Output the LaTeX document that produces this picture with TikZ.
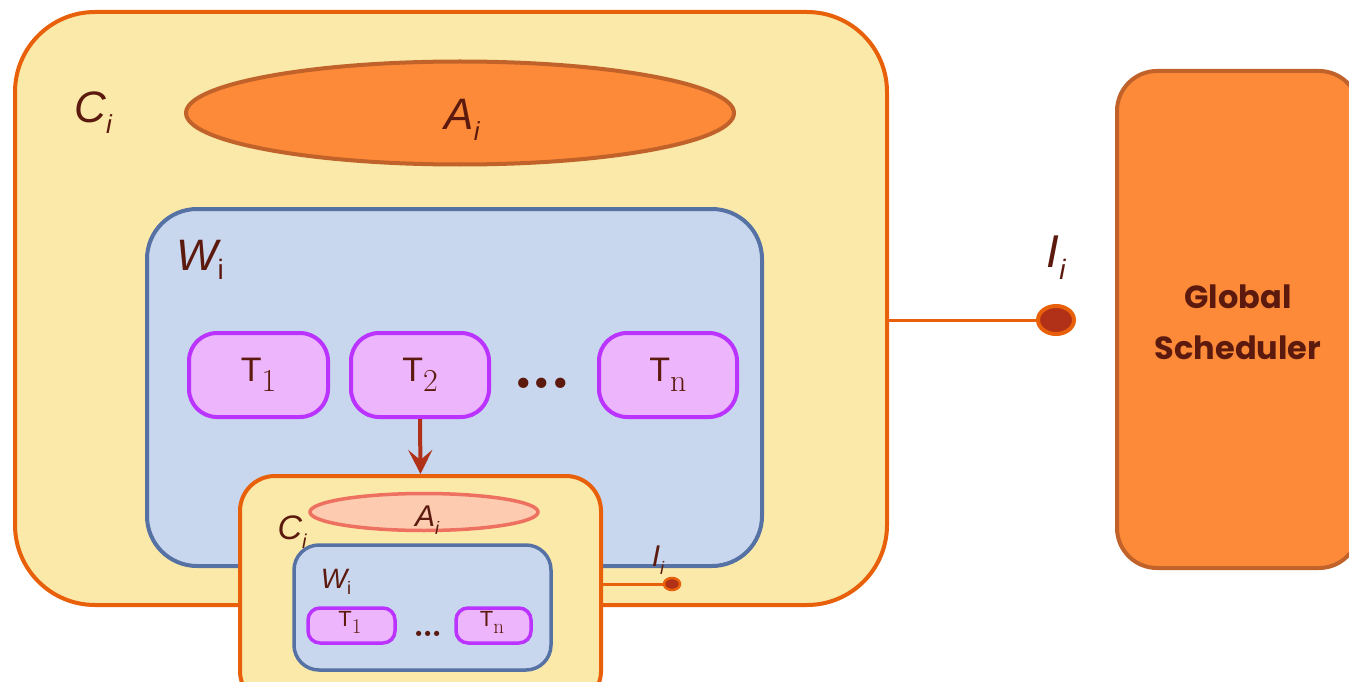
\documentclass[tikz,border=0pt]{standalone}
\usepackage{fontspec}
\newfontfamily\sfn{Liberation Sans}
\newfontfamily\gsfont{Poppins}
\usetikzlibrary{shapes.geometric,arrows.meta}
\definecolor{cfill}{HTML}{FAE9A9}
\definecolor{cline}{HTML}{E8600A}
\definecolor{afill}{HTML}{FD8A38}
\definecolor{aline}{HTML}{C0622A}
\definecolor{wfill}{HTML}{C8D6EE}
\definecolor{wline}{HTML}{5672A5}
\definecolor{tfill}{HTML}{EDB5FB}
\definecolor{tline}{HTML}{BB33FF}
\definecolor{txt}{HTML}{5C1A0E}
\definecolor{arr}{HTML}{B03018}
\definecolor{afilltwo}{HTML}{FDCBB0}
\definecolor{alinetwo}{HTML}{EE7060}
\tikzset{
  cbox/.style={draw=cline, fill=cfill, line width=4pt, rounded corners=#1, inner sep=0pt},
  wbox/.style={draw=wline, fill=wfill, line width=4pt, rounded corners=#1, inner sep=0pt},
  tbox/.style={draw=tline, fill=tfill, line width=4pt, rounded corners=#1, inner sep=0pt, text=txt},
  aell/.style={ellipse, draw=aline, fill=afill, line width=4pt, inner sep=0pt},
  lbl/.style={text=txt, inner sep=0pt},
}
\begin{document}
\begin{tikzpicture}[x=1pt,y=-1pt]
\useasboundingbox (0,0) rectangle (1349,682);
\clip (0,0) rectangle (1349,682);
% outer C
\node[cbox=80pt, minimum width=872pt, minimum height=593pt] (oc) at (451,308.5) {};
\node[aell, minimum width=548pt, minimum height=103pt] (oa) at (460,113) {};
\node[lbl] (oal) at (462,120) {\fontsize{44}{44}\selectfont\sfn\itshape A\raisebox{-11pt}{\fontsize{26}{26}\selectfont i}};
\node[lbl] (ocl) at (93,113) {\fontsize{44}{44}\selectfont\sfn\itshape C\raisebox{-11pt}{\fontsize{26}{26}\selectfont i}};
% W
\node[wbox=50pt, minimum width=615pt, minimum height=357pt] (ow) at (454.5,387.5) {};
\node[lbl] (owl) at (200,260) {\fontsize{44}{44}\selectfont\sfn{\itshape W}\raisebox{-9pt}{\fontsize{28}{28}\selectfont i}};
% T boxes
\node[tbox=28pt, minimum width=139pt, minimum height=84pt] (t1) at (258.5,375) {};
\node[tbox=28pt, minimum width=138pt, minimum height=84pt] (t2) at (420,375) {};
\node[tbox=28pt, minimum width=138pt, minimum height=84pt] (tn) at (668,375) {};
\node[lbl] at (t1) {\fontsize{34}{34}\selectfont\sfn T\raisebox{-10pt}{\rmfamily\fontsize{32}{32}\selectfont 1}};
\node[lbl] at (t2) {\fontsize{34}{34}\selectfont\sfn T\raisebox{-10pt}{\rmfamily\fontsize{32}{32}\selectfont 2}};
\node[lbl] at (tn) {\fontsize{34}{34}\selectfont\sfn T\raisebox{-10pt}{\rmfamily\fontsize{32}{32}\selectfont n}};
\node[lbl, anchor=base] (dots) at (542,388) {\fontsize{72}{72}\selectfont\bfseries .\kern-4pt.\kern-4pt.};
% interface
\node[ellipse, draw=cline, fill=arr, line width=4pt, minimum width=36pt, minimum height=28pt, inner sep=0pt] (idot) at (1056,320) {};
\draw[cline, line width=3pt] (idot.west -| oc.east) -- (idot.west);
\node[lbl] (il) at (1056,258) {\fontsize{46}{46}\selectfont\sfn\itshape I\raisebox{-12pt}{\fontsize{28}{28}\selectfont i}};
% Global scheduler
\node[draw=aline, fill=afill, line width=4pt, rounded corners=40pt, minimum width=242pt, minimum height=497pt, inner sep=0pt] (gs) at (1238,319.5) {};
\node[lbl, align=center, font=\gsfont\bfseries\fontsize{32}{51}\selectfont] (gst) at (1238,322) {Global\\Scheduler};
% inner C
\node[cbox=35pt, minimum width=361pt, minimum height=230pt] (ic) at (420.5,591) {};
\draw[arr, line width=4pt, -{Stealth[length=24pt,width=24pt,inset=10pt]}] (t2.south) -- (ic.north);
\node[ellipse, draw=alinetwo, fill=afilltwo, line width=3.5pt, minimum width=228pt, minimum height=37pt, inner sep=0pt] (ia) at (424,512) {};
\node[lbl] (ial) at (427,520) {\fontsize{30}{30}\selectfont\sfn\itshape A\raisebox{-8pt}{\fontsize{18}{18}\selectfont i}};
\node[lbl] (icl) at (292,532) {\fontsize{34}{34}\selectfont\sfn\itshape C\raisebox{-9pt}{\fontsize{20}{20}\selectfont i}};
\node[wbox=25pt, line width=3.5pt, minimum width=257pt, minimum height=125pt] (iw) at (422.5,607.5) {};
\node[lbl] (iwl) at (336,582) {\fontsize{28}{28}\selectfont\sfn{\itshape W}\raisebox{-6pt}{\fontsize{18}{18}\selectfont i}};
\node[tbox=12pt, line width=3.5pt, minimum width=87pt, minimum height=35pt] (it1) at (351.5,625.5) {};
\node[tbox=12pt, line width=3.5pt, minimum width=75pt, minimum height=35pt] (itn) at (493.5,625.5) {};
\node[lbl] at (350,622) {\fontsize{22}{22}\selectfont\sfn T\raisebox{-7pt}{\rmfamily\fontsize{21}{21}\selectfont 1}};
\node[lbl] at (492,622) {\fontsize{22}{22}\selectfont\sfn T\raisebox{-7pt}{\rmfamily\fontsize{21}{21}\selectfont n}};
\node[lbl, anchor=base] (idots) at (428,636) {\fontsize{36}{36}\selectfont\bfseries .\kern-2pt.\kern-2pt.};
\node[ellipse, draw=cline, fill=arr, line width=2.5pt, minimum width=16pt, minimum height=12pt, inner sep=0pt] (sdot) at (672,584) {};
\draw[cline, line width=3pt] (sdot.west -| ic.east) -- (sdot.west);
\node[lbl] (sil) at (658,560) {\fontsize{30}{30}\selectfont\sfn\itshape I\raisebox{-8pt}{\fontsize{18}{18}\selectfont i}};
\end{tikzpicture}
\end{document}
